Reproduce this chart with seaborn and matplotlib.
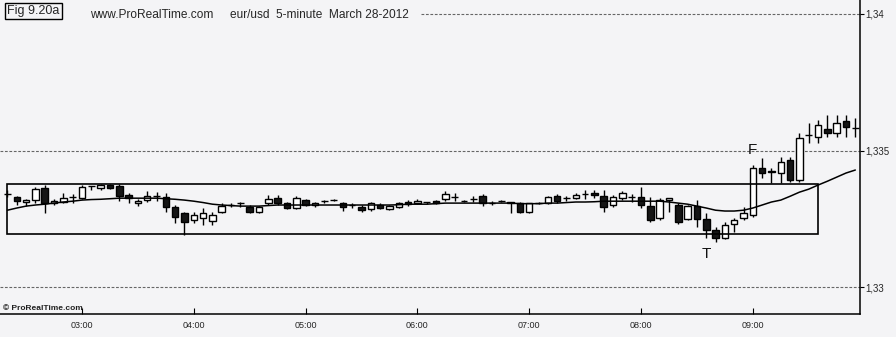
import numpy as np
import pandas as pd
import matplotlib
matplotlib.use("Agg")
import matplotlib.pyplot as plt
import seaborn as sns
from matplotlib.patches import Rectangle

# ---- data: eur/usd 5-minute candles, 28 March 2012, from 02:20 ----
start_time = "2012-03-28 02:20"
opens = [1.33341, 1.33330, 1.33312, 1.33319, 1.33363, 1.33308, 1.33312, 1.33330, 1.33326, 1.33370,
         1.33363, 1.33374, 1.33370, 1.33337, 1.33308, 1.33319, 1.33333, 1.33330, 1.33293, 1.33271,
         1.33246, 1.33253, 1.33242, 1.33275, 1.33301, 1.33308, 1.33293, 1.33275, 1.33308, 1.33326,
         1.33308, 1.33290, 1.33319, 1.33301, 1.33315, 1.33319, 1.33308, 1.33301, 1.33293, 1.33286,
         1.33301, 1.33286, 1.33293, 1.33312, 1.33308, 1.33312, 1.33315, 1.33322, 1.33330, 1.33315,
         1.33322, 1.33333, 1.33308, 1.33315, 1.33312, 1.33308, 1.33275, 1.33308, 1.33308, 1.33333,
         1.33326, 1.33326, 1.33341, 1.33344, 1.33333, 1.33301, 1.33326, 1.33330, 1.33330, 1.33297,
         1.33253, 1.33319, 1.33301, 1.33249, 1.33297, 1.33249, 1.33209, 1.33180, 1.33231, 1.33253,
         1.33264, 1.33436, 1.33421, 1.33418, 1.33465, 1.33392, 1.33557, 1.33549, 1.33579, 1.33564,
         1.33608, 1.33582]
highs = [1.33355, 1.33333, 1.33322, 1.33366, 1.33374, 1.33322, 1.33344, 1.33341, 1.33374, 1.33372,
         1.33377, 1.33377, 1.33377, 1.33344, 1.33322, 1.33352, 1.33348, 1.33344, 1.33301, 1.33275,
         1.33275, 1.33290, 1.33275, 1.33308, 1.33308, 1.33312, 1.33301, 1.33297, 1.33337, 1.33337,
         1.33312, 1.33333, 1.33322, 1.33312, 1.33319, 1.33322, 1.33312, 1.33308, 1.33301, 1.33312,
         1.33308, 1.33301, 1.33312, 1.33319, 1.33322, 1.33313, 1.33319, 1.33352, 1.33344, 1.33319,
         1.33333, 1.33341, 1.33315, 1.33319, 1.33313, 1.33312, 1.33308, 1.33312, 1.33333, 1.33341,
         1.33333, 1.33344, 1.33355, 1.33355, 1.33355, 1.33337, 1.33352, 1.33341, 1.33366, 1.33330,
         1.33326, 1.33326, 1.33308, 1.33301, 1.33319, 1.33271, 1.33220, 1.33238, 1.33253, 1.33293,
         1.33447, 1.33473, 1.33436, 1.33476, 1.33476, 1.33564, 1.33601, 1.33612, 1.33630, 1.33630,
         1.33630, 1.33619]
lows = [1.33330, 1.33301, 1.33297, 1.33308, 1.33271, 1.33301, 1.33308, 1.33308, 1.33322, 1.33355,
        1.33355, 1.33359, 1.33315, 1.33308, 1.33297, 1.33312, 1.33315, 1.33275, 1.33235, 1.33191,
        1.33235, 1.33227, 1.33227, 1.33271, 1.33293, 1.33293, 1.33271, 1.33271, 1.33301, 1.33301,
        1.33286, 1.33286, 1.33297, 1.33293, 1.33308, 1.33315, 1.33279, 1.33290, 1.33275, 1.33279,
        1.33286, 1.33282, 1.33290, 1.33297, 1.33304, 1.33304, 1.33304, 1.33315, 1.33315, 1.33312,
        1.33312, 1.33297, 1.33301, 1.33312, 1.33271, 1.33271, 1.33271, 1.33304, 1.33304, 1.33308,
        1.33315, 1.33322, 1.33322, 1.33326, 1.33275, 1.33293, 1.33319, 1.33312, 1.33290, 1.33238,
        1.33246, 1.33275, 1.33231, 1.33246, 1.33220, 1.33180, 1.33165, 1.33176, 1.33202, 1.33246,
        1.33257, 1.33399, 1.33381, 1.33381, 1.33385, 1.33385, 1.33527, 1.33527, 1.33549, 1.33549,
        1.33549, 1.33549]
closes = [1.33341, 1.33315, 1.33319, 1.33359, 1.33308, 1.33315, 1.33326, 1.33330, 1.33366, 1.33370,
          1.33374, 1.33363, 1.33333, 1.33326, 1.33315, 1.33333, 1.33335, 1.33293, 1.33257, 1.33238,
          1.33264, 1.33271, 1.33264, 1.33297, 1.33301, 1.33308, 1.33275, 1.33293, 1.33322, 1.33308,
          1.33290, 1.33326, 1.33301, 1.33308, 1.33315, 1.33319, 1.33293, 1.33301, 1.33282, 1.33308,
          1.33290, 1.33297, 1.33308, 1.33304, 1.33315, 1.33312, 1.33308, 1.33341, 1.33330, 1.33315,
          1.33322, 1.33308, 1.33308, 1.33315, 1.33308, 1.33275, 1.33308, 1.33308, 1.33330, 1.33315,
          1.33326, 1.33337, 1.33341, 1.33337, 1.33293, 1.33330, 1.33344, 1.33330, 1.33301, 1.33246,
          1.33319, 1.33326, 1.33238, 1.33297, 1.33249, 1.33209, 1.33180, 1.33227, 1.33246, 1.33271,
          1.33436, 1.33418, 1.33425, 1.33458, 1.33392, 1.33546, 1.33557, 1.33593, 1.33564, 1.33601,
          1.33586, 1.33582]
moving_avg = [1.33282, 1.33290, 1.33297, 1.33301, 1.33304, 1.33308, 1.33312, 1.33315, 1.33319, 1.33321,
              1.33322, 1.33324, 1.33326, 1.33326, 1.33326, 1.33326, 1.33326, 1.33324, 1.33322, 1.33319,
              1.33315, 1.33310, 1.33304, 1.33301, 1.33299, 1.33297, 1.33297, 1.33297, 1.33299, 1.33301,
              1.33301, 1.33301, 1.33301, 1.33301, 1.33301, 1.33301, 1.33301, 1.33301, 1.33301, 1.33301,
              1.33301, 1.33301, 1.33302, 1.33304, 1.33304, 1.33304, 1.33306, 1.33308, 1.33308, 1.33308,
              1.33308, 1.33308, 1.33308, 1.33308, 1.33308, 1.33306, 1.33306, 1.33306, 1.33308, 1.33308,
              1.33310, 1.33312, 1.33312, 1.33313, 1.33315, 1.33315, 1.33315, 1.33315, 1.33315, 1.33315,
              1.33315, 1.33312, 1.33308, 1.33304, 1.33297, 1.33290, 1.33282, 1.33279, 1.33279, 1.33282,
              1.33290, 1.33301, 1.33312, 1.33319, 1.33333, 1.33348, 1.33359, 1.33374, 1.33388, 1.33403,
              1.33418, 1.33429]

# trading range box (bar index span and price span) and labels
box_first_bar, box_last_bar = 0, 87
box_low, box_high = 1.33194, 1.33379
label_F = ("F", 80, 1.33502)
label_T = ("T", 75, 1.33121)
y_ticks = [1.33, 1.335, 1.34]
y_tick_labels = ["1,33", "1,335", "1,34"]

# ---- build frame ----
df = pd.DataFrame({"open": opens, "high": highs, "low": lows, "close": closes, "ma": moving_avg})
df["time"] = pd.date_range(start_time, periods=len(df), freq="5min")
df["bar"] = np.arange(len(df))

bg = "#f4f4f6"
sns.set_theme(style="white")
plt.rcParams["font.family"] = ["Liberation Sans Narrow", "Liberation Sans", "DejaVu Sans"]

fig = plt.figure(figsize=(8.96, 3.37), dpi=100, facecolor=bg)
ax = fig.add_axes([0.0, 0.068, 0.9598, 0.932])
ax.set_facecolor(bg)

# gridlines (the top one starts after the header text)
grid_start = {1.33: 0.0, 1.335: 0.0, 1.34: 0.49}
for yv in y_ticks:
    ax.axhline(yv, xmin=grid_start[yv], color="#666666", lw=0.8, ls=(0, (2.5, 1.5)), zorder=1)

# wicks
ax.vlines(df["bar"], df["low"], df["high"], color="black", lw=1.0, zorder=2)
# bodies
up = df["close"] >= df["open"]
body_bottom = np.minimum(df["open"], df["close"])
body_height = (df["close"] - df["open"]).abs()
ax.bar(df["bar"], body_height, bottom=body_bottom, width=0.7,
       color=np.where(up, "white", "#151515"), edgecolor="black", linewidth=1.0, zorder=3)

# moving average
sns.lineplot(data=df, x="bar", y="ma", ax=ax, color="black", lw=1.1, zorder=4)

# range box
ax.add_patch(Rectangle((box_first_bar, box_low), box_last_bar - box_first_bar, box_high - box_low,
                       fill=False, edgecolor="black", lw=1.2, zorder=5))

# F / T labels
for txt, xb, yp in (label_F, label_T):
    ax.text(xb, yp, txt, fontsize=11, ha="center", va="center", color="#111111",
            family=["Liberation Sans", "DejaVu Sans"], zorder=6)

# axes limits
ax.set_xlim(-0.8, 91.5)
ax.set_ylim(1.32902, 1.34051)

# x ticks on the hour
hour_rows = df[df["time"].dt.minute == 0]
ax.set_xticks(hour_rows["bar"])
ax.set_xticklabels(hour_rows["time"].dt.strftime("%H:%M"))
ax.tick_params(axis="x", direction="in", length=4, width=0.8, color="black",
               labelsize=6.5, pad=5, bottom=True)

# y ticks on right
ax.yaxis.tick_right()
ax.set_yticks(y_ticks)
ax.set_yticklabels(y_tick_labels)
ax.tick_params(axis="y", direction="out", length=3, width=0.8, color="black",
               labelsize=7, pad=1, right=True, left=False)
ax.set_xlabel("")
ax.set_ylabel("")

for side in ("left", "top"):
    ax.spines[side].set_visible(False)
for side in ("right", "bottom"):
    ax.spines[side].set_visible(True)
    ax.spines[side].set_color("black")
    ax.spines[side].set_linewidth(1.1)

# header
fig.text(0.0078, 0.967, "Fig 9.20a", fontsize=9, ha="left", va="center",
         family=["Liberation Sans", "DejaVu Sans"],
         bbox=dict(boxstyle="square,pad=0.18", facecolor=bg, edgecolor="black", lw=1))
fig.text(0.1, 0.955, "www.ProRealTime.com", fontsize=8.6, ha="left", va="center")
fig.text(0.257, 0.955, "eur/usd  5-minute  March 28-2012", fontsize=8.6, ha="left", va="center")
fig.text(0.003, 0.085, "\u00a9 ProRealTime.com", fontsize=6, ha="left", va="center",
         fontweight="bold", color="#222222")

fig.savefig("out.png", dpi=100, facecolor=bg)
